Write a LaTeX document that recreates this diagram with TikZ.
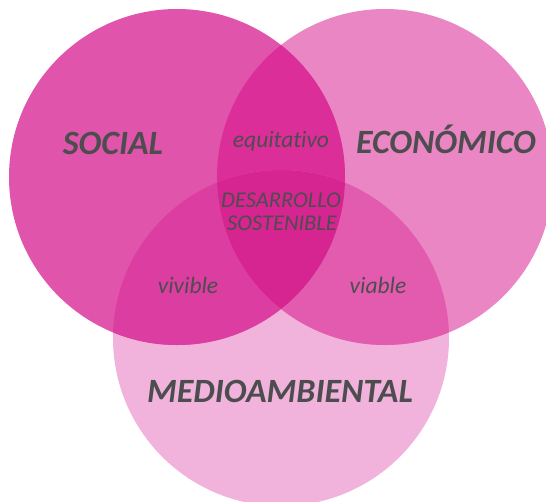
\documentclass[tikz,border=0pt]{standalone}
\usepackage{fontspec}
\setmainfont[Ligatures=NoCommon]{Carlito}
\definecolor{cS}{HTML}{E055AB}
\definecolor{cE}{HTML}{EA86C3}
\definecolor{cM}{HTML}{F1B3DB}
\definecolor{cSE}{HTML}{DB2E98}
\definecolor{cSM}{HTML}{DC3DA0}
\definecolor{cEM}{HTML}{E35BAF}
\definecolor{cSEM}{HTML}{D62590}
\definecolor{txt}{HTML}{4D4D4F}
\begin{document}
\begin{tikzpicture}[x=1pt,y=-1pt,
  big/.style={text=txt,font=\fontsize{34}{38}\selectfont\bfseries\itshape,anchor=base,inner sep=0pt},
  small/.style={text=txt,font=\fontsize{23.5}{26}\selectfont\itshape,anchor=base,inner sep=0pt},
  core/.style={text=txt,font=\fontsize{22.5}{24}\selectfont\itshape,anchor=base,inner sep=0pt}]
\useasboundingbox (0,0) rectangle (546,501);
\def\Sc{(177,177) circle[radius=168]}
\def\Ec{(385,177) circle[radius=168]}
\def\Mc{(281,338) circle[radius=168]}
\fill[cM] \Mc;
\fill[cE] \Ec;
\fill[cS] \Sc;
\begin{scope}\clip \Sc; \fill[cSE] \Ec; \fill[cSM] \Mc; \end{scope}
\begin{scope}\clip \Ec; \fill[cEM] \Mc; \end{scope}
\begin{scope}\clip \Sc; \clip \Ec; \fill[cSEM] \Mc; \end{scope}
\node[big] (social) at (113,154) {SOCIAL};
\node[big] (eco) at (446,153) {ECONÓMICO};
\node[big] (medio) at (280,402) {MEDIOAMBIENTAL};
\node[small] (equi) at (281,147) {equitativo};
\node[core] (des) at (281,207) {DESARROLLO};
\node[core] (sos) at (282,230) {SOSTENIBLE};
\node[small] (vivi) at (188,293) {vivible};
\node[small] (via) at (378,293) {viable};
\end{tikzpicture}
\end{document}
